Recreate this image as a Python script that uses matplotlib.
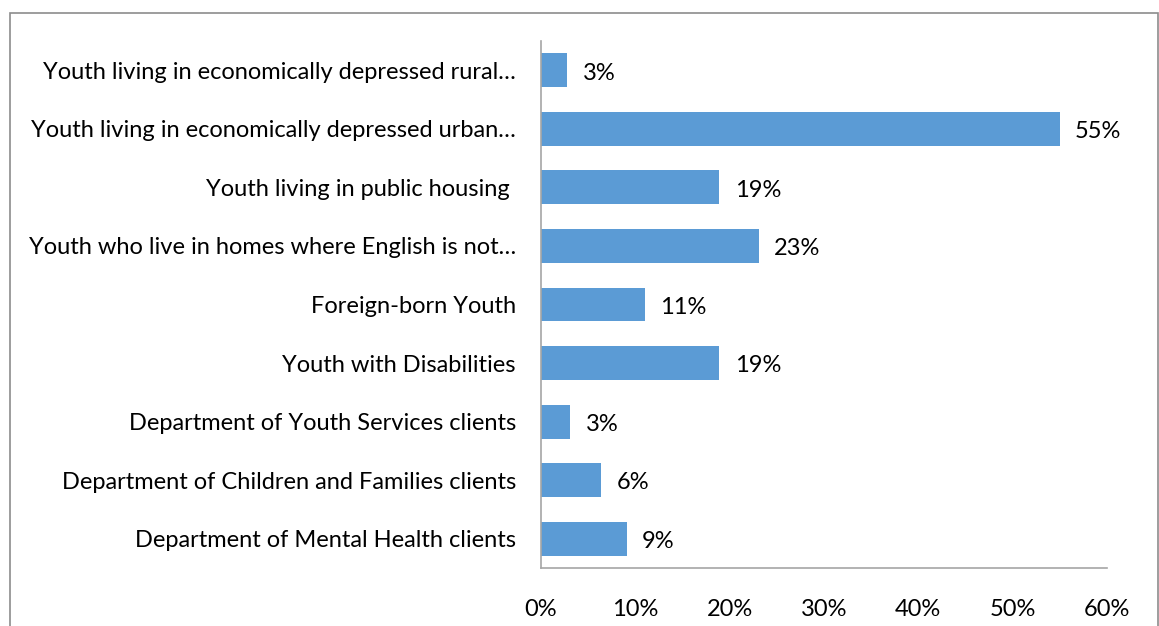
import matplotlib.pyplot as plt
from matplotlib.patches import Rectangle

# data (top to bottom as shown)
categories = [
    "Youth living in economically depressed rural…",
    "Youth living in economically depressed urban…",
    "Youth living in public housing ",
    "Youth who live in homes where English is not…",
    "Foreign-born Youth",
    "Youth with Disabilities",
    "Department of Youth Services clients",
    "Department of Children and Families clients",
    "Department of Mental Health clients",
]
# bar lengths, labels as printed
values = [2.8, 55.0, 18.9, 23.1, 11.0, 18.9, 3.1, 6.4, 9.1]
value_labels = ["3%", "55%", "19%", "23%", "11%", "19%", "3%", "6%", "9%"]
xticks = [0, 10, 20, 30, 40, 50, 60]

plt.rcParams['font.family'] = ['Lato', 'DejaVu Sans']
fs = 17

W, H = 1159, 626
fig = plt.figure(figsize=(W / 100, H / 100), dpi=100)
ax = fig.add_axes([541 / W, 1 - 568 / H, (1107 - 541) / W, (568 - 41) / H])

ypos = list(range(len(categories)))[::-1]
ax.barh(ypos, values, height=0.58, color='#5B9BD5')
for y, v, lab in zip(ypos, values, value_labels):
    ax.annotate(lab, (v, y), xytext=(11, -2), textcoords='offset points',
                va='center', ha='left', fontsize=fs, color='black')

ax.set_xlim(0, 60)
ax.set_ylim(-0.5, len(categories) - 0.5)
ax.set_yticks(ypos)
ax.set_yticklabels(categories, fontsize=fs)
ax.set_xticks(xticks)
ax.set_xticklabels([f"{t}%" for t in xticks], fontsize=fs)
ax.tick_params(axis='y', length=0, pad=18)
ax.tick_params(axis='x', length=0, pad=22)
for s in ['top', 'right']:
    ax.spines[s].set_visible(False)
for s in ['left', 'bottom']:
    ax.spines[s].set_color('#A6A6A6')
    ax.spines[s].set_linewidth(1.2)

# outer chart frame
fig.patches.append(Rectangle((10 / W, -0.01), (1157.5 - 10) / W, 1 - 13 / H + 0.01,
                             transform=fig.transFigure, fill=False,
                             edgecolor='#8C8C8C', linewidth=1.2))

fig.savefig('out.png', dpi=100)
